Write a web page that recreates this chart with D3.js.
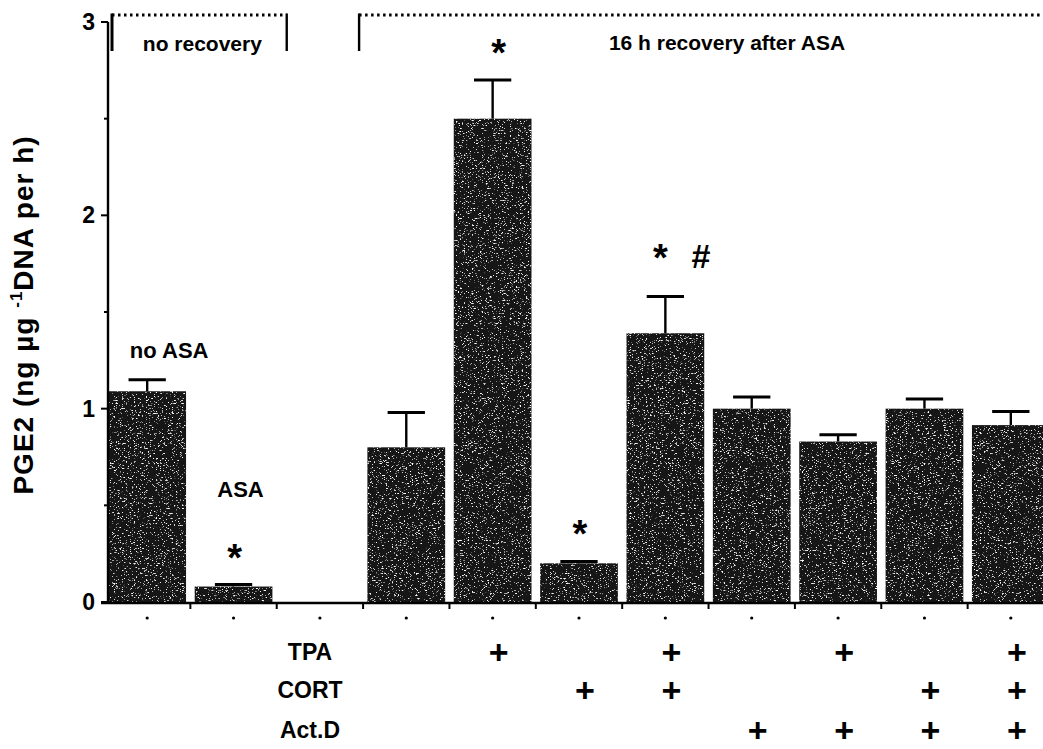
<!DOCTYPE html>
<html>
<head>
<meta charset="utf-8">
<script src="https://cdn.jsdelivr.net/npm/d3@7"></script>
<style>
  html, body { margin: 0; padding: 0; background: #fff; }
  svg { display: block; }
  text { font-family: "Liberation Sans", Arial, Helvetica, sans-serif; fill: #000; }
</style>
</head>
<body>
<svg id="chart" width="1043" height="749"></svg>
<script>
// Treatment groups, left to right (the third slot is an empty spacer)
const categories = ["noASA", "ASA", "spacer", "control", "TPA", "CORT", "TPA+CORT", "ActD", "TPA+ActD", "CORT+ActD", "TPA+CORT+ActD"];
// PGE2 synthesis, ng per µg DNA per h (mean and SEM)
const means = [1.09, 0.08, null, 0.80, 2.50, 0.20, 1.39, 1.00, 0.83, 1.00, 0.915];
const sems  = [0.06, 0.01, null, 0.18, 0.20, 0.01, 0.19, 0.06, 0.035, 0.05, 0.07];
// Treatment matrix shown under the bars
const rowLabels = ["TPA", "CORT", "Act.D"];
const tpa  = [0, 0, 0, 0, 1, 0, 1, 0, 1, 0, 1];
const cort = [0, 0, 0, 0, 0, 1, 1, 0, 0, 1, 1];
const actd = [0, 0, 0, 0, 0, 0, 0, 1, 1, 1, 1];
// Significance marks
const marks = [null, "*", null, null, "*", "*", "* #", null, null, null, null];
// Y axis ticks
const majorTicks = [0, 1, 2, 3];
const minorTicks = [0.5, 1.5, 2.5];
// Group headings
const groupLabels = ["no recovery", "16 h recovery after ASA"];
const barLabels = ["no ASA", "ASA"];

const svg = d3.select("#chart");

const y = d3.scaleLinear().domain([0, 3]).range([602, 22]);
const x = d3.scaleBand().domain(categories).range([104, 1054]).paddingInner(0.1).paddingOuter(0.05);
const step = x.step();
const bw = x.bandwidth();
const cx = c => x(c) + bw / 2;
const slotLeft = c => x(c) - step * 0.05;
const axisX = 108;

// grainy halftone texture for the bars
const defs = svg.append("defs");
const f = defs.append("filter").attr("id", "grain")
  .attr("x", 0).attr("y", 0).attr("width", 1).attr("height", 1);
f.append("feTurbulence").attr("type", "fractalNoise").attr("baseFrequency", "0.5 1.4")
  .attr("numOctaves", 2).attr("seed", 7).attr("result", "noise");
f.append("feColorMatrix").attr("in", "noise").attr("type", "matrix")
  .attr("values", "0 0 0 0 1  0 0 0 0 1  0 0 0 0 1  8 0 0 0 -5.0").attr("result", "specks");
f.append("feComposite").attr("in", "specks").attr("in2", "SourceGraphic").attr("operator", "in").attr("result", "sp");
const fm = f.append("feMerge");
fm.append("feMergeNode").attr("in", "SourceGraphic");
fm.append("feMergeNode").attr("in", "sp");

const data = categories.map((c, i) => ({ c, i, m: means[i], e: sems[i] })).filter(d => d.m !== null);

// bars
svg.append("g").attr("filter", "url(#grain)")
  .selectAll("rect").data(data).join("rect")
  .attr("x", d => x(d.c))
  .attr("width", bw)
  .attr("y", d => y(d.m))
  .attr("height", d => y(0) - y(d.m))
  .attr("fill", "#161616");

// error bars
const eb = svg.append("g").attr("stroke", "#000").attr("stroke-width", 2.4);
eb.selectAll("line.v").data(data).join("line").attr("class", "v")
  .attr("x1", d => cx(d.c)).attr("x2", d => cx(d.c))
  .attr("y1", d => y(d.m)).attr("y2", d => y(d.m + d.e));
eb.selectAll("line.h").data(data).join("line").attr("class", "h")
  .attr("x1", d => cx(d.c) - bw * 0.24).attr("x2", d => cx(d.c) + bw * 0.24)
  .attr("y1", d => y(d.m + d.e)).attr("y2", d => y(d.m + d.e))
  .attr("stroke-width", 3);

// y axis
const ya = svg.append("g").attr("stroke", "#000");
ya.append("line").attr("x1", axisX).attr("x2", axisX).attr("y1", y(0) + 1).attr("y2", y(3)).attr("stroke-width", 2.4);
ya.selectAll("line.maj").data(majorTicks).join("line").attr("class", "maj")
  .attr("x1", axisX - 7).attr("x2", axisX).attr("y1", d => y(d)).attr("y2", d => y(d)).attr("stroke-width", 2);
ya.selectAll("line.min").data(minorTicks).join("line").attr("class", "min")
  .attr("x1", axisX - 4).attr("x2", axisX).attr("y1", d => y(d)).attr("y2", d => y(d)).attr("stroke-width", 2);
svg.append("g").selectAll("text").data(majorTicks).join("text")
  .attr("x", axisX - 13).attr("y", d => y(d) + 8)
  .attr("text-anchor", "end").attr("font-size", 23).attr("font-weight", "bold")
  .text(d => d);

// y axis title
const yt = svg.append("text")
  .attr("transform", `translate(33, ${(133 + 497) / 2}) rotate(-90)`)
  .attr("text-anchor", "middle").attr("font-size", 28).attr("font-weight", "bold")
  .attr("letter-spacing", 1);
yt.append("tspan").text("PGE2 (ng µg  ");
yt.append("tspan").attr("font-size", 17).attr("dy", -11).text("-1");
yt.append("tspan").attr("dy", 11).text("DNA per h)");

// x axis
const xa = svg.append("g").attr("stroke", "#000").attr("stroke-width", 2.4);
xa.append("line").attr("x1", axisX - 7).attr("x2", 1043).attr("y1", y(0) + 1).attr("y2", y(0) + 1);
xa.selectAll("line.t").data(categories.slice(1)).join("line").attr("class", "t")
  .attr("x1", d => slotLeft(d)).attr("x2", d => slotLeft(d))
  .attr("y1", y(0)).attr("y2", y(0) + 7).attr("stroke-width", 2);
svg.append("g").selectAll("circle").data(categories).join("circle")
  .attr("cx", d => cx(d)).attr("cy", 618).attr("r", 1.6).attr("fill", "#000");

// treatment matrix
const rows = [tpa, cort, actd];
const rowY = [660, 698, 738];
svg.append("g").selectAll("text").data(rowLabels).join("text")
  .attr("x", 310).attr("y", (d, i) => rowY[i])
  .attr("text-anchor", "middle").attr("font-size", 23).attr("font-weight", "bold")
  .text(d => d);
rows.forEach((r, ri) => {
  svg.append("g").selectAll("text").data(categories.filter((c, i) => r[i])).join("text")
    .attr("x", d => cx(d) + 6).attr("y", rowY[ri] + 4)
    .attr("text-anchor", "middle").attr("font-size", 34).attr("font-weight", "bold")
    .text("+");
});

// significance marks
const markData = data.filter(d => marks[d.i]);
markData.forEach(d => {
  const top = y(d.m + d.e);
  if (marks[d.i] === "* #") {
    svg.append("text").attr("x", cx(d.c) - 5).attr("y", top - 48 + 22)
      .attr("text-anchor", "middle").attr("font-size", 38).attr("font-weight", "bold").text("*");
    svg.append("text").attr("x", cx(d.c) + 35).attr("y", top - 42 + 13)
      .attr("text-anchor", "middle").attr("font-size", 34).attr("font-weight", "bold")
      .attr("font-style", "italic").text("#");
  } else {
    svg.append("text").attr("x", cx(d.c) + (d.c === "TPA" ? 6 : 1)).attr("y", top - 36 + 22)
      .attr("text-anchor", "middle").attr("font-size", 38).attr("font-weight", "bold").text("*");
  }
});

// labels above the first two bars
svg.append("text").attr("x", cx("noASA") + 22).attr("y", y(means[0] + sems[0]) - 22)
  .attr("text-anchor", "middle").attr("font-size", 22).attr("font-weight", "bold").text(barLabels[0]);
svg.append("text").attr("x", cx("ASA") + 7).attr("y", y(means[1] + sems[1]) - 88)
  .attr("text-anchor", "middle").attr("font-size", 22).attr("font-weight", "bold").text(barLabels[1]);

// group brackets
const br = svg.append("g").attr("fill", "none").attr("stroke", "#000");
const b1L = axisX + 4, b1R = slotLeft("spacer") + 10, b2L = slotLeft("control") - 4;
const bTop = 15, bBot = 51;
br.append("line").attr("x1", b1L).attr("x2", b1R).attr("y1", bTop).attr("y2", bTop)
  .attr("stroke-width", 3).attr("stroke-dasharray", "2.5 3.5");
br.append("line").attr("x1", b2L).attr("x2", 1043).attr("y1", bTop).attr("y2", bTop)
  .attr("stroke-width", 3).attr("stroke-dasharray", "2.5 3.5");
br.append("line").attr("x1", b1L).attr("x2", b1L).attr("y1", bTop - 1.5).attr("y2", bBot).attr("stroke-width", 3);
br.append("line").attr("x1", b1R).attr("x2", b1R).attr("y1", bTop - 1.5).attr("y2", bBot).attr("stroke-width", 2.4);
br.append("line").attr("x1", b2L).attr("x2", b2L).attr("y1", bTop - 1.5).attr("y2", bBot).attr("stroke-width", 2.4);

svg.append("text").attr("x", (b1L + b1R) / 2 + 3).attr("y", 51)
  .attr("text-anchor", "middle").attr("font-size", 21).attr("font-weight", "bold").text(groupLabels[0]);
svg.append("text").attr("x", 727).attr("y", 50)
  .attr("text-anchor", "middle").attr("font-size", 21).attr("font-weight", "bold").text(groupLabels[1]);
</script>
</body>
</html>
